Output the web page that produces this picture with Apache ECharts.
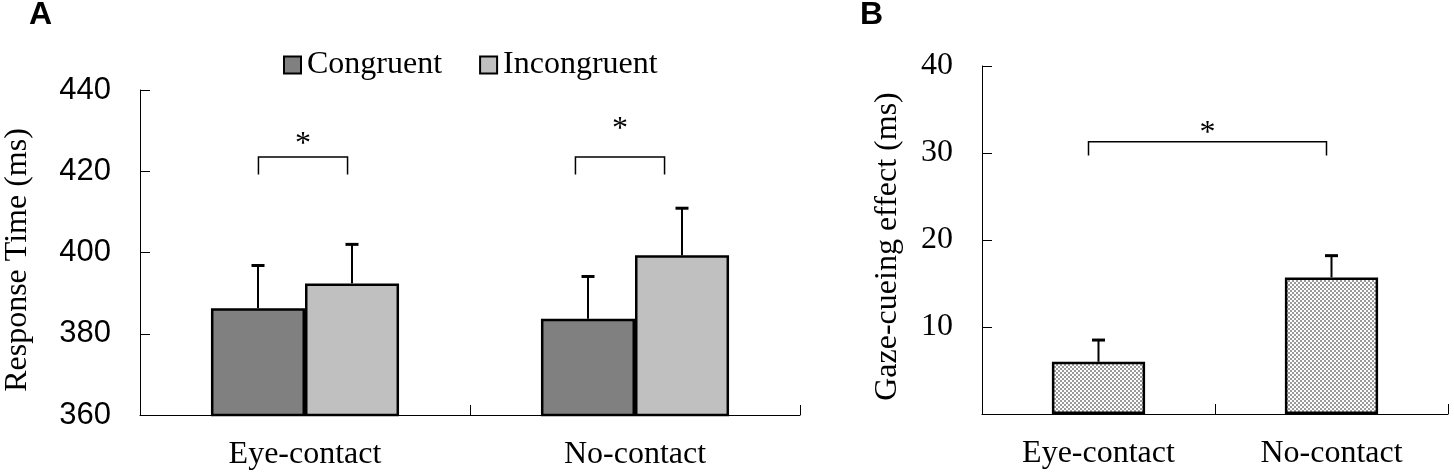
<!DOCTYPE html>
<html><head><meta charset="utf-8">
<script src="https://cdn.jsdelivr.net/npm/echarts@6/dist/echarts.min.js"></script>
<style>html,body{margin:0;padding:0;background:#fff}#c{width:1454px;height:476px}</style>
</head><body><div id="c"></div>
<script>
// ---- data ----
const categories = ['Eye-contact', 'No-contact'];
const seriesNames = ['Congruent', 'Incongruent'];
const congruentRT = [386.3, 383.7];
const congruentUpper = [396.8, 394.1];
const incongruentRT = [392.4, 399.3];
const incongruentUpper = [402.0, 410.9];
const rtTicks = [360, 380, 400, 420, 440];
const effectMs = [6.0, 15.7];
const effectUpper = [8.5, 18.2];
const effectTicks = [0, 10, 20, 30, 40];
// significance markers panel A: [category, bracket top, leg bottom, star]
const sigA = [[0, 423.5, 419.2, 427.7], [1, 423.5, 419.2, 431.4]];
// significance marker panel B: [from category, to category, bracket top, leg bottom, star]
const sigB = [[0, 1, 31.3, 29.7, 32.8]];

// ---- styles ----
const SERIF = '"Liberation Serif","Times New Roman",serif';
const SANS = '"Liberation Sans",Arial,sans-serif';

function checker() {
  const c = document.createElement('canvas');
  c.width = 4; c.height = 4;
  const g = c.getContext('2d');
  g.fillStyle = '#ffffff'; g.fillRect(0, 0, 4, 4);
  g.fillStyle = '#9a9a9a'; g.fillRect(0, 0, 2, 2); g.fillRect(2, 2, 2, 2);
  return c;
}

function errRender(offsetFrac) {
  return function (params, api) {
    const i = api.value(0);
    const base = api.coord([i, api.value(1)]);
    const top = api.coord([i, api.value(2)]);
    const band = api.size([1, 0])[0];
    const cx = base[0] + offsetFrac * band;
    return { type: 'group', children: [
      { type: 'line', shape: { x1: cx, y1: base[1], x2: cx, y2: top[1] }, style: { stroke: '#000', lineWidth: 2 } },
      { type: 'line', shape: { x1: cx - 6.5, y1: top[1], x2: cx + 6.5, y2: top[1] }, style: { stroke: '#000', lineWidth: 3 } }
    ] };
  };
}

const shiftA = [-2, -15];
function bracketARender(params, api) {
  const i = api.value(0);
  const t = api.coord([i, api.value(1)]);
  const b = api.coord([i, api.value(2)]);
  const s = api.coord([i, api.value(3)]);
  const band = api.size([1, 0])[0];
  const xl = t[0] - 0.135 * band + shiftA[params.dataIndex];
  const xr = t[0] + 0.135 * band + shiftA[params.dataIndex];
  return { type: 'group', children: [
    { type: 'polyline', shape: { points: [[xl, b[1]], [xl, t[1]], [xr, t[1]], [xr, b[1]]] }, style: { stroke: '#000', lineWidth: 1.5, fill: null } },
    { type: 'text', style: { text: '*', x: (xl + xr) / 2, y: s[1] + 5, font: '32px ' + SERIF, align: 'center', verticalAlign: 'middle', fill: '#000' } }
  ] };
}
function bracketBRender(params, api) {
  const t0 = api.coord([api.value(0), api.value(2)]);
  const t1 = api.coord([api.value(1), api.value(2)]);
  const b = api.coord([api.value(0), api.value(3)]);
  const s = api.coord([api.value(0), api.value(4)]);
  const xl = t0[0] - 10, xr = t1[0] - 5;
  return { type: 'group', children: [
    { type: 'polyline', shape: { points: [[xl, b[1]], [xl, t0[1]], [xr, t0[1]], [xr, b[1]]] }, style: { stroke: '#000', lineWidth: 1.5, fill: null } },
    { type: 'text', style: { text: '*', x: (xl + xr) / 2, y: s[1] + 5, font: '32px ' + SERIF, align: 'center', verticalAlign: 'middle', fill: '#000' } }
  ] };
}

const axisLine = { show: true, lineStyle: { color: '#000', width: 1 } };
const tickIn = { show: true, inside: true, length: 10, lineStyle: { color: '#000', width: 1 } };

const chart = echarts.init(document.getElementById('c'), null, { renderer: 'canvas' });
const option = {
  animation: false,
  backgroundColor: '#fff',
  graphic: [
    { type: 'text', left: 29, top: -1, style: { text: 'A', font: 'bold 32px ' + SANS, fill: '#000' } },
    { type: 'text', left: 860, top: -1, style: { text: 'B', font: 'bold 32px ' + SANS, fill: '#000' } }
  ],
  legend: {
    data: seriesNames,
    left: 278, top: 44,
    itemWidth: 17, itemHeight: 17, itemGap: 37,
    icon: 'rect',
    itemStyle: { borderColor: '#000', borderWidth: 2 },
    textStyle: { fontFamily: SERIF, fontSize: 32, color: '#000', padding: [0, 0, 0, 1] }
  },
  grid: [
    { left: 140, top: 90, width: 660, height: 325 },
    { left: 982, top: 66, width: 466, height: 348 }
  ],
  xAxis: [
    { type: 'category', gridIndex: 0, data: categories, boundaryGap: true,
      axisLine, axisTick: tickIn,
      axisLabel: { fontFamily: SERIF, fontSize: 32, color: '#000', margin: 24 } },
    { type: 'category', gridIndex: 1, data: categories, boundaryGap: true,
      axisLine, axisTick: tickIn,
      axisLabel: { fontFamily: SERIF, fontSize: 32, color: '#000', margin: 24 } }
  ],
  yAxis: [
    { type: 'value', gridIndex: 0, min: rtTicks[0], max: rtTicks[rtTicks.length - 1], interval: rtTicks[1] - rtTicks[0],
      axisLine, axisTick: tickIn, splitLine: { show: false },
      axisLabel: { fontFamily: SANS, fontSize: 31, color: '#000', margin: 29 },
      name: 'Response Time (ms)', nameLocation: 'middle', nameRotate: 90, nameGap: 106,
      nameTextStyle: { fontFamily: SERIF, fontSize: 32, color: '#000', padding: [0, 15, 0, 0] } },
    { type: 'value', gridIndex: 1, min: effectTicks[0], max: effectTicks[effectTicks.length - 1], interval: effectTicks[1] - effectTicks[0],
      axisLine, axisTick: tickIn, splitLine: { show: false },
      axisLabel: { fontFamily: SERIF, fontSize: 32, color: '#000', margin: 29, formatter: v => (v === 0 ? '' : String(v)) },
      name: 'Gaze-cueing effect (ms)', nameLocation: 'middle', nameRotate: 90, nameGap: 78,
      nameTextStyle: { fontFamily: SERIF, fontSize: 32, color: '#000', padding: [0, 13, 0, 0] } }
  ],
  series: [
    { name: seriesNames[0], type: 'bar', xAxisIndex: 0, yAxisIndex: 0, data: congruentRT,
      barGap: '0%', barCategoryGap: '43%',
      itemStyle: { color: '#808080', borderColor: '#000', borderWidth: 2.5 } },
    { name: seriesNames[1], type: 'bar', xAxisIndex: 0, yAxisIndex: 0, data: incongruentRT,
      barGap: '0%', barCategoryGap: '43%',
      itemStyle: { color: '#c0c0c0', borderColor: '#000', borderWidth: 2.5 } },
    { type: 'custom', xAxisIndex: 0, yAxisIndex: 0, renderItem: errRender(-0.1424), z: 5,
      data: categories.map((c, i) => [i, congruentRT[i], congruentUpper[i]]) },
    { type: 'custom', xAxisIndex: 0, yAxisIndex: 0, renderItem: errRender(0.1424), z: 5,
      data: categories.map((c, i) => [i, incongruentRT[i], incongruentUpper[i]]) },
    { type: 'custom', xAxisIndex: 0, yAxisIndex: 0, renderItem: bracketARender, z: 5, data: sigA },
    { name: 'Gaze-cueing effect', type: 'bar', xAxisIndex: 1, yAxisIndex: 1, data: effectMs,
      barWidth: '40%',
      itemStyle: { color: { image: checker(), repeat: 'repeat' }, borderColor: '#000', borderWidth: 2.5 } },
    { type: 'custom', xAxisIndex: 1, yAxisIndex: 1, renderItem: errRender(0), z: 5,
      data: categories.map((c, i) => [i, effectMs[i], effectUpper[i]]) },
    { type: 'custom', xAxisIndex: 1, yAxisIndex: 1, renderItem: bracketBRender, z: 5, data: sigB }
  ]
};
chart.setOption(option);
</script>
</body></html>
